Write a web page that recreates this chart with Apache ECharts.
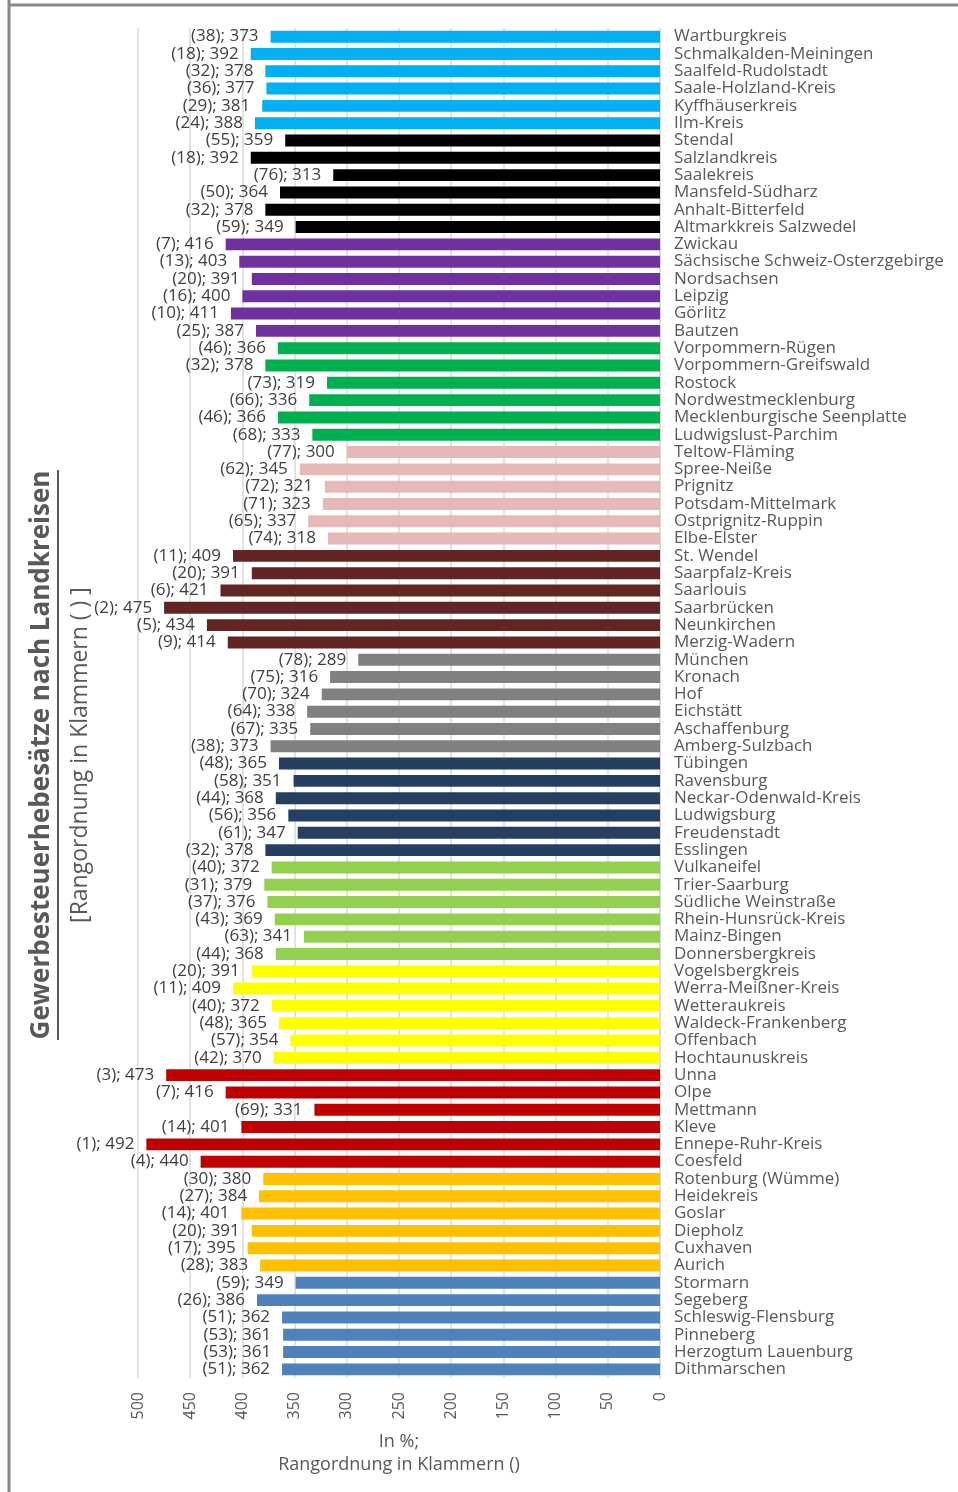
<!DOCTYPE html>
<html>
<head>
<meta charset="utf-8">
<script src="https://cdn.jsdelivr.net/npm/echarts@6/dist/echarts.min.js"></script>
<style>
html,body{margin:0;padding:0;background:#fff;}
#chart{width:958px;height:1492px;}
</style>
</head>
<body>
<div id="chart"></div>
<script>
const categories = [
  "Wartburgkreis","Schmalkalden-Meiningen","Saalfeld-Rudolstadt","Saale-Holzland-Kreis","Kyffhäuserkreis","Ilm-Kreis",
  "Stendal","Salzlandkreis","Saalekreis","Mansfeld-Südharz","Anhalt-Bitterfeld","Altmarkkreis Salzwedel",
  "Zwickau","Sächsische Schweiz-Osterzgebirge","Nordsachsen","Leipzig","Görlitz","Bautzen",
  "Vorpommern-Rügen","Vorpommern-Greifswald","Rostock","Nordwestmecklenburg","Mecklenburgische Seenplatte","Ludwigslust-Parchim",
  "Teltow-Fläming","Spree-Neiße","Prignitz","Potsdam-Mittelmark","Ostprignitz-Ruppin","Elbe-Elster",
  "St. Wendel","Saarpfalz-Kreis","Saarlouis","Saarbrücken","Neunkirchen","Merzig-Wadern",
  "München","Kronach","Hof","Eichstätt","Aschaffenburg","Amberg-Sulzbach",
  "Tübingen","Ravensburg","Neckar-Odenwald-Kreis","Ludwigsburg","Freudenstadt","Esslingen",
  "Vulkaneifel","Trier-Saarburg","Südliche Weinstraße","Rhein-Hunsrück-Kreis","Mainz-Bingen","Donnersbergkreis",
  "Vogelsbergkreis","Werra-Meißner-Kreis","Wetteraukreis","Waldeck-Frankenberg","Offenbach","Hochtaunuskreis",
  "Unna","Olpe","Mettmann","Kleve","Ennepe-Ruhr-Kreis","Coesfeld",
  "Rotenburg (Wümme)","Heidekreis","Goslar","Diepholz","Cuxhaven","Aurich",
  "Stormarn","Segeberg","Schleswig-Flensburg","Pinneberg","Herzogtum Lauenburg","Dithmarschen"
];
const values = [
  373,392,378,377,381,388,
  359,392,313,364,378,349,
  416,403,391,400,411,387,
  366,378,319,336,366,333,
  300,345,321,323,337,318,
  409,391,421,475,434,414,
  289,316,324,338,335,373,
  365,351,368,356,347,378,
  372,379,376,369,341,368,
  391,409,372,365,354,370,
  473,416,331,401,492,440,
  380,384,401,391,395,383,
  349,386,362,361,361,362
];
const ranks = [
  38,18,32,36,29,24,
  55,18,76,50,32,59,
  7,13,20,16,10,25,
  46,32,73,66,46,68,
  77,62,72,71,65,74,
  11,20,6,2,5,9,
  78,75,70,64,67,38,
  48,58,44,56,61,32,
  40,31,37,43,63,44,
  20,11,40,48,57,42,
  3,7,69,14,1,4,
  30,27,14,20,17,28,
  59,26,51,53,53,51
];
// group (Bundesland) index of each category
const groups = [
  0,0,0,0,0,0, 1,1,1,1,1,1, 2,2,2,2,2,2, 3,3,3,3,3,3, 4,4,4,4,4,4, 5,5,5,5,5,5,
  6,6,6,6,6,6, 7,7,7,7,7,7, 8,8,8,8,8,8, 9,9,9,9,9,9, 10,10,10,10,10,10, 11,11,11,11,11,11, 12,12,12,12,12,12
];
const xTicks = [0,50,100,150,200,250,300,350,400,450,500];

const groupColors = ["#00B0F0","#000000","#7030A0","#00B050","#E6B9B8","#632523","#808080","#243F60","#92D050","#FFFF00","#C00000","#FFC000","#4F81BD"];
const FONT = "Open Sans";

const chart = echarts.init(document.getElementById('chart'), null, {renderer:'canvas'});
const data = values.map((v,i)=>({value:v, itemStyle:{color:groupColors[groups[i]]}}));

chart.setOption({
  animation:false,
  backgroundColor:'#fff',
  grid:{left:138,right:298,top:28,bottom:114,containLabel:false},
  xAxis:{
    type:'value', inverse:true, min:xTicks[0], max:xTicks[xTicks.length-1], interval:50,
    axisLine:{show:false}, axisTick:{show:false},
    splitLine:{show:true,lineStyle:{color:'#d9d9d9',width:1.5}},
    axisLabel:{rotate:90, margin:14, color:'#595959', fontFamily:FONT, fontSize:16},
    name:'In %;\nRangordnung in Klammern ()', nameLocation:'middle', nameGap:52,
    nameTextStyle:{color:'#595959', fontFamily:FONT, fontSize:18, lineHeight:23}
  },
  yAxis:{
    type:'category', data:categories, inverse:true, position:'right',
    axisLine:{show:true,lineStyle:{color:'#d9d9d9',width:1.5}}, axisTick:{show:false},
    axisLabel:{margin:14, color:'#595959', fontFamily:FONT, fontSize:17, align:'left', interval:0}
  },
  series:[{
    type:'bar', data:data, barCategoryGap:'31%',
    label:{show:true, position:'left', distance:12, color:'#404040', fontFamily:FONT, fontSize:17,
      formatter:p=>'('+ranks[p.dataIndex]+'); '+p.value}
  }],
  graphic:[
    {type:'line', shape:{x1:9,y1:0,x2:9,y2:1492}, style:{stroke:'#888',lineWidth:3}},
    {type:'line', shape:{x1:9,y1:5,x2:958,y2:5}, style:{stroke:'#888',lineWidth:3}},
    {type:'text', x:42, y:755, rotation:Math.PI/2,
     style:{text:'Gewerbesteuerhebesätze nach Landkreisen', fontFamily:FONT, fontWeight:'bold', fontSize:26, fill:'#595959', align:'center', verticalAlign:'middle'}},
    {type:'line', shape:{x1:58,y1:470,x2:58,y2:1040}, style:{stroke:'#595959',lineWidth:2}},
    {type:'text', x:80, y:755, rotation:Math.PI/2,
     style:{text:'[Rangordnung in Klammern ( ) ]', fontFamily:FONT, fontSize:23, fill:'#595959', align:'center', verticalAlign:'middle'}}
  ]
});
</script>
</body>
</html>
